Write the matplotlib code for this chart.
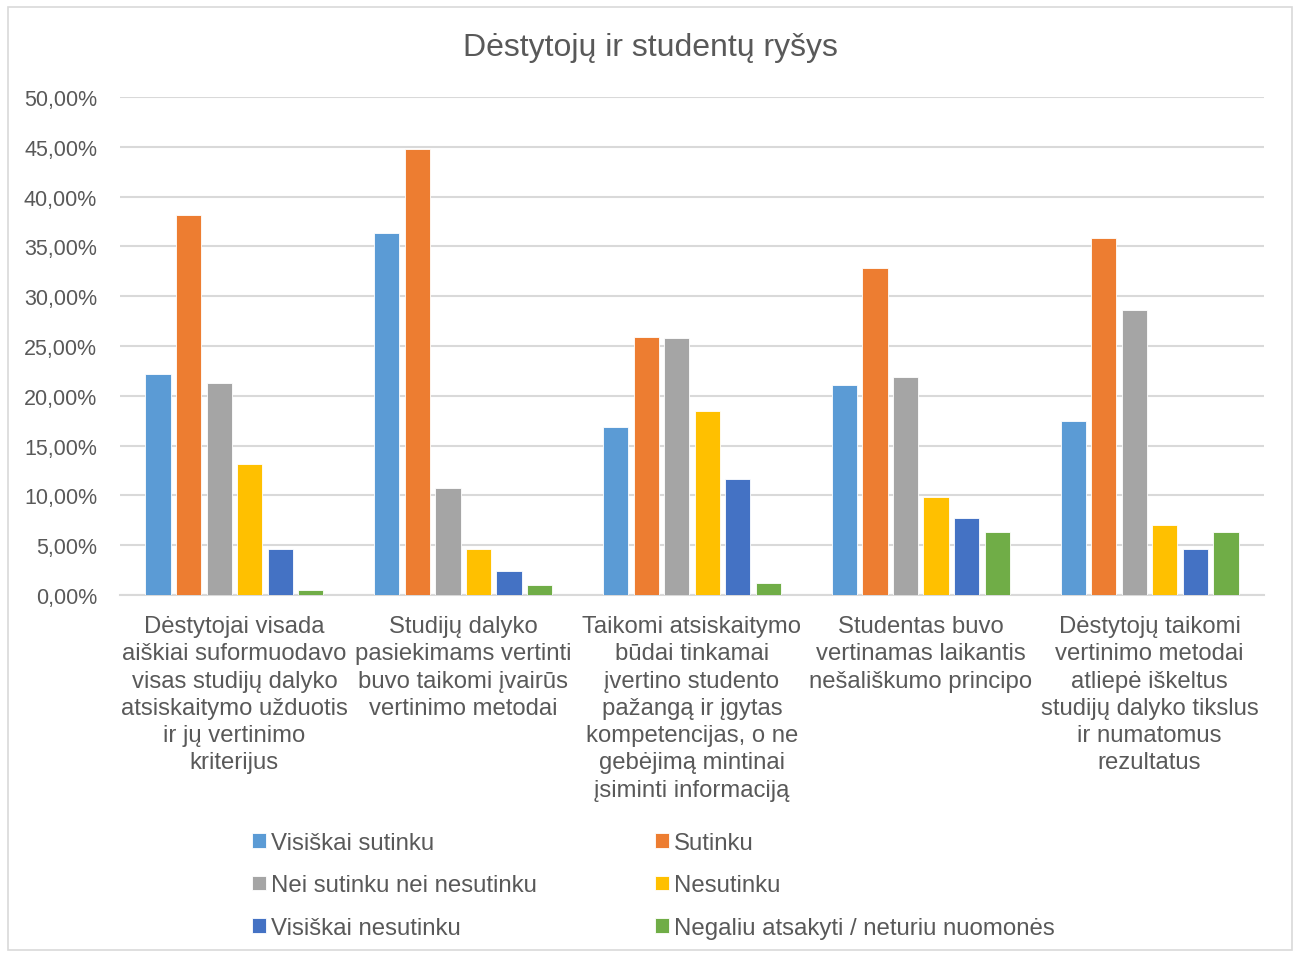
import matplotlib.pyplot as plt
import matplotlib.patches as patches
import numpy as np

plt.rcParams['font.family'] = ['Liberation Sans', 'DejaVu Sans']

title = "Dėstytojų ir studentų ryšys"
categories = [
    "Dėstytojai visada\naiškiai suformuodavo\nvisas studijų dalyko\natsiskaitymo užduotis\nir jų vertinimo\nkriterijus",
    "Studijų dalyko\npasiekimams vertinti\nbuvo taikomi įvairūs\nvertinimo metodai",
    "Taikomi atsiskaitymo\nbūdai tinkamai\nįvertino studento\npažangą ir įgytas\nkompetencijas, o ne\ngebėjimą mintinai\nįsiminti informaciją",
    "Studentas buvo\nvertinamas laikantis\nnešališkumo principo",
    "Dėstytojų taikomi\nvertinimo metodai\natliepė iškeltus\nstudijų dalyko tikslus\nir numatomus\nrezultatus",
]
series_names = [
    "Visiškai sutinku",
    "Sutinku",
    "Nei sutinku nei nesutinku",
    "Nesutinku",
    "Visiškai nesutinku",
    "Negaliu atsakyti / neturiu nuomonės",
]
visiskai_sutinku = [22.2, 36.3, 16.9, 21.1, 17.5]
sutinku = [38.2, 44.8, 25.9, 32.8, 35.8]
nei_nei = [21.3, 10.7, 25.8, 21.9, 28.6]
nesutinku = [13.2, 4.6, 18.5, 9.8, 7.0]
visiskai_nesutinku = [4.6, 2.4, 11.6, 7.7, 4.6]
negaliu = [0.5, 1.0, 1.2, 6.3, 6.3]
values = [visiskai_sutinku, sutinku, nei_nei, nesutinku, visiskai_nesutinku, negaliu]
colors = ["#5B9BD5", "#ED7D31", "#A5A5A5", "#FFC000", "#4472C4", "#70AD47"]
yticks = [0, 5, 10, 15, 20, 25, 30, 35, 40, 45, 50]

text_color = "#595959"
grid_color = "#D9D9D9"

fig = plt.figure(figsize=(12.99, 9.54), dpi=100)
ax = fig.add_axes([120 / 1299, 1 - 596 / 954, 1144 / 1299, 498 / 954])

# outer chart border
fig.patches.append(patches.Rectangle((8 / 1299, 3 / 954), 1284 / 1299, 943 / 954,
                                     transform=fig.transFigure, fill=False,
                                     edgecolor="#D9D9D9", linewidth=1.2))

x = np.arange(len(categories))
step = 0.1335
width = 0.11
for i, (name, vals, c) in enumerate(zip(series_names, values, colors)):
    ax.bar(x + (i - 2.5) * step, vals, width, color=c, label=name,
           edgecolor="white", linewidth=0.6, zorder=3)

ax.set_xlim(-0.5, len(categories) - 0.5)
ax.set_ylim(0, 50)
ax.set_yticks(yticks)
ax.set_yticklabels([f"{t:.2f}%".replace(".", ",") for t in yticks])
ax.set_xticks(x)
ax.set_xticklabels(categories, linespacing=1.31, va="top")
ax.tick_params(axis="y", length=0, pad=16.5, labelsize=15.5, labelcolor=text_color)
ax.tick_params(axis="x", length=0, pad=14.5, labelsize=17.2, labelcolor=text_color)
ax.grid(axis="y", color=grid_color, linewidth=1.5, zorder=0)
for s in ["top", "right", "left"]:
    ax.spines[s].set_visible(False)
ax.spines["bottom"].set_color(grid_color)
ax.spines["bottom"].set_linewidth(1.5)

fig.text(650 / 1299, 1 - 48 / 954, title, ha="center", va="center",
         fontsize=23, color=text_color)

handles, labels = ax.get_legend_handles_labels()
# reorder so the 2-column legend fills row by row
order = [0, 2, 4, 1, 3, 5]
leg = fig.legend([handles[i] for i in order], [labels[i] for i in order],
                 ncol=2, loc="upper left", bbox_to_anchor=(252 / 1299, 1 - 833 / 954),
                 frameon=False, borderpad=0, borderaxespad=0, fontsize=17.3,
                 handlelength=0.57, handleheight=0.57, handletextpad=0.2,
                 columnspacing=4.95, labelspacing=0.85)
for t in leg.get_texts():
    t.set_color(text_color)

fig.savefig("out.png", dpi=100)
